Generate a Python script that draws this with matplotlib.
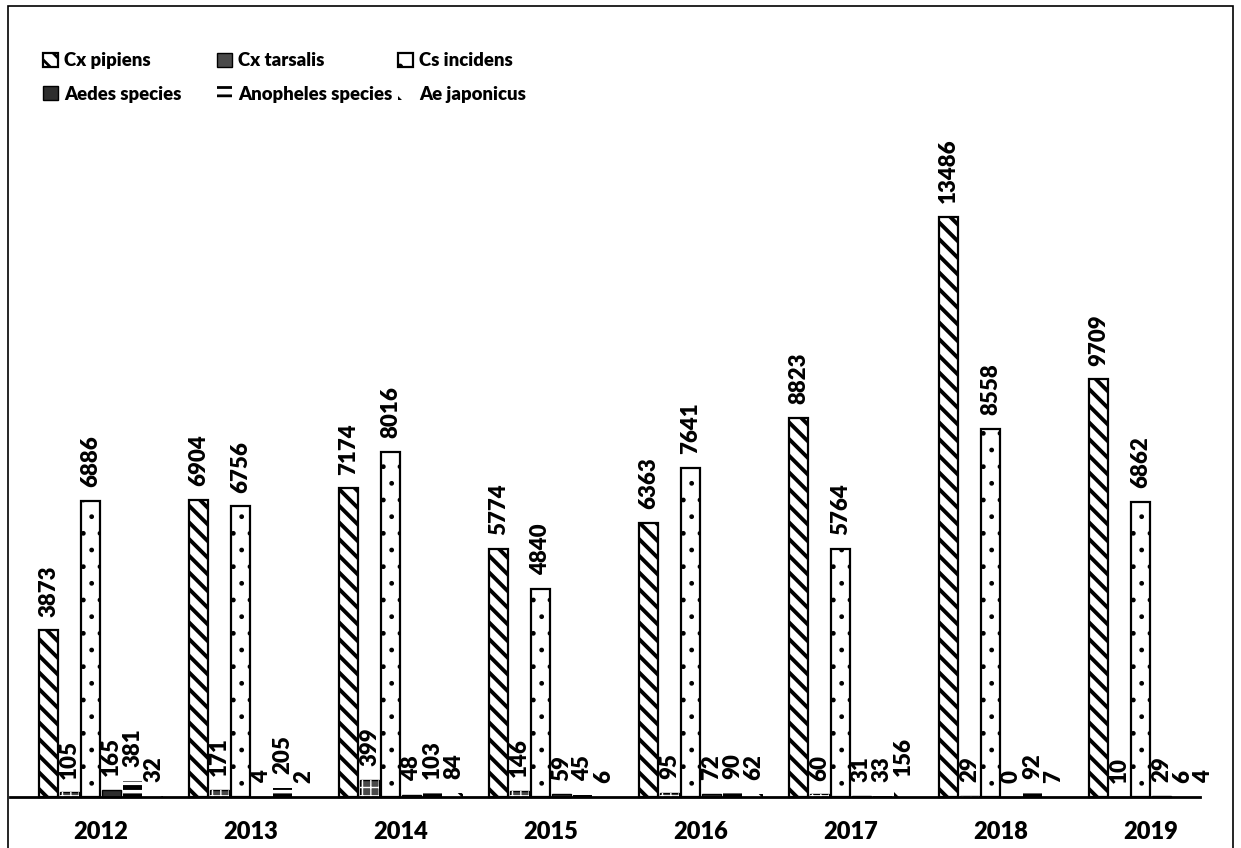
import matplotlib.pyplot as plt
import matplotlib.patches as mpatches
import numpy as np

plt.rcParams['font.family'] = ['Lato', 'DejaVu Sans']
plt.rcParams['font.weight'] = 'bold'

years = ["2012", "2013", "2014", "2015", "2016", "2017", "2018", "2019"]
species = ["Cx pipiens", "Cx tarsalis", "Cs incidens",
           "Aedes species", "Anopheles species", "Ae japonicus"]

cx_pipiens = [3873, 6904, 7174, 5774, 6363, 8823, 13486, 9709]
cx_tarsalis = [105, 171, 399, 146, 95, 60, 29, 10]
cs_incidens = [6886, 6756, 8016, 4840, 7641, 5764, 8558, 6862]
aedes_sp = [165, 4, 48, 59, 72, 31, 0, 29]
anopheles_sp = [381, 205, 103, 45, 90, 33, 92, 6]
ae_japonicus = [32, 2, 84, 6, 62, 156, 7, 4]

series = [cx_pipiens, cx_tarsalis, cs_incidens, aedes_sp, anopheles_sp, ae_japonicus]

# bar styles: (facecolor, edgecolor, linewidth, hatch, hatch linewidth)
styles = [
    ("white", "black", 1.6, "\\\\", 2.8),
    ("#4a4a4a", "black", 1.0, None, 1.0),
    ("white", "black", 1.6, ".", 1.0),
    ("#2e2e2e", "black", 1.0, None, 1.0),
    ("white", "black", 0.0, "--", 3.5),
    ("white", "black", 0.0, "\\", 2.0),
]

fig = plt.figure(figsize=(12.41, 8.48), dpi=100)

# outer frame
fig.patches.append(mpatches.Rectangle((8 / 1241, -0.01), (1233 - 8) / 1241, 1 - 6 / 848 + 0.01,
                                      transform=fig.transFigure, fill=False,
                                      edgecolor="black", linewidth=1.2))

ax = fig.add_axes([10 / 1241, 51 / 848, 1190 / 1241, 697 / 848])

x = np.arange(len(years))
step = 0.14
width = 0.122
handles = []
for j, (vals, st) in enumerate(zip(series, styles)):
    fc, ec, lw, hatch, hlw = st
    plt.rcParams['hatch.linewidth'] = hlw
    pos = x + (j - 2.5) * step
    bars = ax.bar(pos, vals, width, facecolor=fc, edgecolor=ec, linewidth=lw,
                  hatch=hatch, label=species[j], clip_on=False)
    for b in bars:
        if hasattr(b, "set_hatch_linewidth"):
            b.set_hatch_linewidth(hlw)
    if j == 1:
        # checkered overlay for Cx tarsalis
        over = ax.bar(pos, vals, width, facecolor="none", edgecolor="white",
                      linewidth=0, hatch="++")
        for b in over:
            if hasattr(b, "set_hatch_linewidth"):
                b.set_hatch_linewidth(1.0)
    handles.append(bars)
    for px, v in zip(pos, vals):
        ax.annotate(str(v), (px, v), xytext=(0, 10), textcoords="offset points",
                    rotation=90, ha="center", va="bottom", fontsize=16,
                    fontweight="heavy", annotation_clip=False)

ax.set_xlim(-0.607, 7.327)
ax.set_ylim(0, 16206)
for s in ["top", "right", "left"]:
    ax.spines[s].set_visible(False)
ax.spines["bottom"].set_linewidth(2)
ax.set_yticks([])
ax.set_xticks(x)
ax.set_xticklabels(years, fontsize=17, fontweight="heavy")
ax.tick_params(axis="x", length=0, pad=17)

# legend: three columns, two rows
col_x = [43, 217, 398]
for c in range(3):
    idx = [c, c + 3]
    leg = fig.legend([handles[i] for i in idx], [species[i] for i in idx],
                     loc="upper left", bbox_to_anchor=(col_x[c] / 1241, 1 - 52 / 848),
                     bbox_transform=fig.transFigure, ncol=1, frameon=False,
                     prop={"size": 13.3, "weight": "heavy"}, handlelength=0.8,
                     handleheight=0.8, handletextpad=0.35,
                     labelspacing=0.9, borderpad=0, borderaxespad=0)

fig.savefig("out.png", dpi=100)
